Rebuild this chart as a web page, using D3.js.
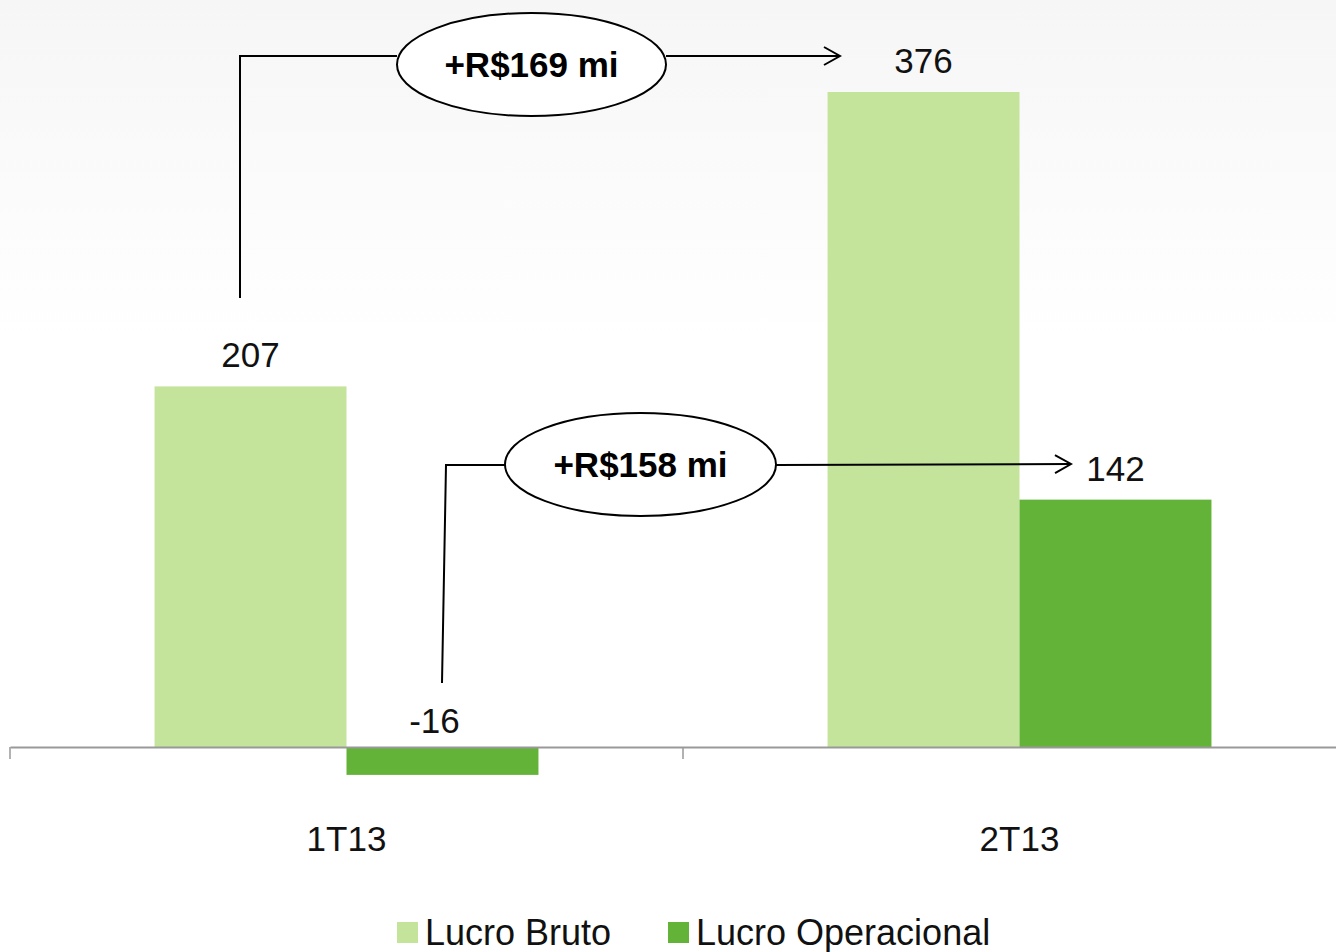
<!DOCTYPE html>
<html>
<head>
<meta charset="utf-8">
<script src="https://cdn.jsdelivr.net/npm/d3@7"></script>
<style>
  body { margin: 0; background: #fff; }
  text { font-family: "Liberation Sans", Arial, sans-serif; }
</style>
</head>
<body>
<script>
// data
const periods = ['1T13', '2T13']
const series = ['Lucro Bruto', 'Lucro Operacional']
const lucroBruto = [207, 376]
const lucroOperacional = [-16, 142]
const deltaLabels = ['+R$169 mi', '+R$158 mi']
const colors = ['#C4E49C', '#62B337']

// size of svg
const w = 1336
const h = 952

const svg = d3.select('body')
    .append('svg')
    .attr('width', w)
    .attr('height', h)

// faint background at the top
const defs = svg.append('defs')
const grad = defs.append('linearGradient')
    .attr('id', 'bg')
    .attr('x1', 0).attr('y1', 0).attr('x2', 0).attr('y2', 1)
grad.append('stop').attr('offset', '0%').attr('stop-color', '#f6f6f6')
grad.append('stop').attr('offset', '100%').attr('stop-color', '#ffffff')
svg.append('rect')
    .attr('width', w).attr('height', 340)
    .attr('fill', 'url(#bg)')

// scales
const x0 = d3.scaleBand()
    .domain(periods)
    .range([10, 1356])
    .paddingInner(0)
    .paddingOuter(0)

const x1 = d3.scaleBand()
    .domain(series)
    .range([0, x0.bandwidth()])
    .paddingOuter(0.753)
    .paddingInner(0)

const y = d3.scaleLinear()
    .domain([0, 376])
    .range([747, 92])

const rows = periods.map((p, i) => ({
    period: p,
    values: [
        { key: series[0], value: lucroBruto[i] },
        { key: series[1], value: lucroOperacional[i] }
    ]
}))

// bars
const groups = svg.selectAll('g.period')
    .data(rows)
    .enter()
    .append('g')
    .attr('class', 'period')
    .attr('transform', d => `translate(${x0(d.period)},0)`)

groups.selectAll('rect')
    .data(d => d.values)
    .enter()
    .append('rect')
    .attr('x', d => x1(d.key))
    .attr('width', x1.bandwidth())
    .attr('y', d => y(Math.max(0, d.value)))
    .attr('height', d => Math.abs(y(d.value) - y(0)))
    .style('fill', (d, i) => colors[i])

// value labels
groups.selectAll('text.val')
    .data(d => d.values)
    .enter()
    .append('text')
    .attr('class', 'val')
    .attr('x', d => x1(d.key) + x1.bandwidth() / 2 - (d.value < 0 ? 8 : 0))
    .attr('y', d => d.value < 0 ? y(0) - 14 : y(d.value) - 19)
    .attr('text-anchor', 'middle')
    .style('font-size', '35px')
    .style('fill', '#111')
    .text(d => d.value)

// x axis
const axis = d3.axisBottom(x0)
    .tickValues([])
    .tickSizeOuter(0)
svg.append('g')
    .attr('transform', `translate(0,${y(0)})`)
    .call(axis)
    .call(g => g.select('.domain').attr('stroke', '#999').attr('stroke-width', 2))

// ticks at band edges
const edges = [x0(periods[0]), x0(periods[1])]
svg.selectAll('line.tick')
    .data(edges)
    .enter()
    .append('line')
    .attr('x1', d => d).attr('x2', d => d)
    .attr('y1', y(0)).attr('y2', y(0) + 12)
    .attr('stroke', '#999')
    .attr('stroke-width', 1.5)

// category labels
svg.selectAll('text.cat')
    .data(periods)
    .enter()
    .append('text')
    .attr('class', 'cat')
    .attr('x', d => x0(d) + x0.bandwidth() / 2)
    .attr('y', 851)
    .attr('text-anchor', 'middle')
    .style('font-size', '35px')
    .style('fill', '#111')
    .text(d => d)

// arrow marker
defs.append('marker')
    .attr('id', 'arrow')
    .attr('viewBox', '0 0 20 20')
    .attr('refX', 18).attr('refY', 10)
    .attr('markerWidth', 20).attr('markerHeight', 20)
    .attr('markerUnits', 'userSpaceOnUse')
    .attr('orient', 'auto')
    .append('path')
    .attr('d', 'M2,1 L18,10 L2,19')
    .attr('fill', 'none')
    .attr('stroke', '#000')
    .attr('stroke-width', 2)

// change callouts
const callouts = [
    { label: deltaLabels[0], sx: 240, sy: 298, ly: 56, ex: 840, ey: 56, cx: 531.5, cy: 64.5, rx: 134.5 },
    { label: deltaLabels[1], sx: 442, sy: 683, ly: 465, ex: 1071, ey: 464, cx: 640.5, cy: 464.5, rx: 135.5 }
]

callouts.forEach(c => {
    svg.append('path')
        .attr('d', `M${c.sx},${c.sy} L${c.sx + (c.sx === 442 ? 4 : 0)},${c.ly} L${c.cx - c.rx},${c.ly}`)
        .attr('fill', 'none')
        .attr('stroke', '#000')
        .attr('stroke-width', 2)
    svg.append('line')
        .attr('x1', c.cx + c.rx).attr('y1', c.ly)
        .attr('x2', c.ex).attr('y2', c.ey)
        .attr('stroke', '#000')
        .attr('stroke-width', 2)
        .attr('marker-end', 'url(#arrow)')
    svg.append('ellipse')
        .attr('cx', c.cx).attr('cy', c.cy)
        .attr('rx', c.rx).attr('ry', 51.5)
        .attr('fill', '#fff')
        .attr('stroke', '#000')
        .attr('stroke-width', 2)
    svg.append('text')
        .attr('x', c.cx)
        .attr('y', c.cy + 12)
        .attr('text-anchor', 'middle')
        .style('font-size', '35px')
        .style('font-weight', 'bold')
        .style('fill', '#000')
        .text(c.label)
})

// legend
const legendX = [397, 668]
const legend = svg.selectAll('g.legend')
    .data(series)
    .enter()
    .append('g')
    .attr('class', 'legend')
    .attr('transform', (d, i) => `translate(${legendX[i]},922)`)
legend.append('rect')
    .attr('width', 21).attr('height', 21)
    .style('fill', (d, i) => colors[i])
legend.append('text')
    .attr('x', 28)
    .attr('y', 23)
    .style('font-size', '36px')
    .style('fill', '#111')
    .text(d => d)
</script>
</body>
</html>
